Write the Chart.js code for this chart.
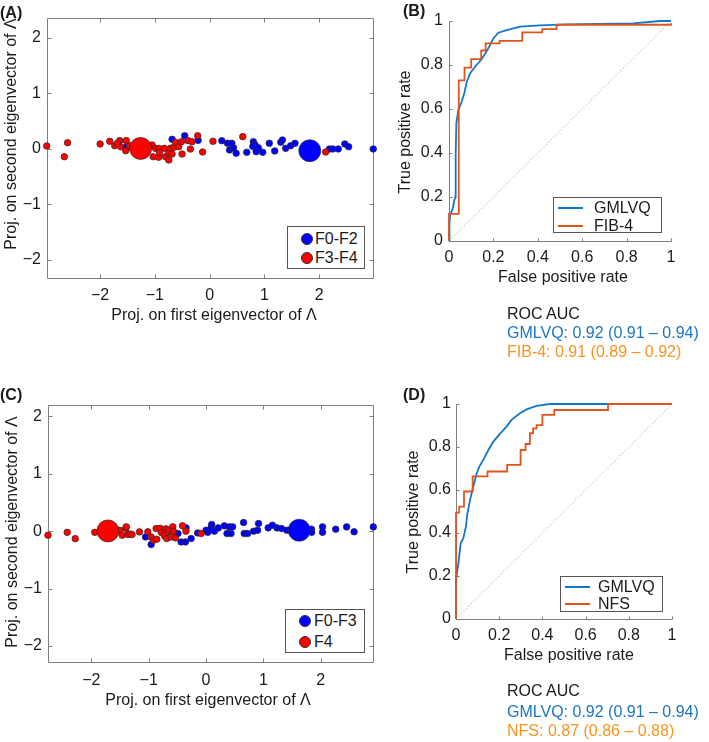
<!DOCTYPE html>
<html><head><meta charset="utf-8">
<script src="https://cdn.jsdelivr.net/npm/chart.js@4.4.1/dist/chart.umd.min.js"></script>
<style>
html,body{margin:0;padding:0;background:#fff;}
body{width:709px;height:742px;position:relative;overflow:hidden;font-family:'Liberation Sans',Arial,Helvetica,sans-serif;color:#1a1a1a;}
canvas{position:absolute;}
.t{position:absolute;font-size:16px;line-height:16px;white-space:nowrap;}
.cx{transform:translate(-50%,-50%);}
.ry{transform:translate(-50%,-50%) rotate(-90deg);}
.lt{transform:translateY(-50%);}
.lab{position:absolute;font-weight:bold;font-size:16px;line-height:16px;transform:translateY(-50%);}
.leg{position:absolute;border:1px solid #555;background:#fff;box-sizing:border-box;}
.leg .m{position:absolute;width:12px;height:12px;border-radius:50%;border:1px solid #333;box-sizing:border-box;transform:translate(-50%,-50%);}
.leg .ln{position:absolute;height:2px;transform:translateY(-50%);}
.leg .tx{position:absolute;font-size:16px;line-height:16px;transform:translateY(-50%);white-space:nowrap;}
</style></head>
<body>
<canvas id="cA" width="385" height="335" style="left:0;top:0"></canvas>
<canvas id="cB" width="324" height="300" style="left:385px;top:0"></canvas>
<canvas id="cC" width="385" height="372" style="left:0;top:370px"></canvas>
<canvas id="cD" width="324" height="290" style="left:385px;top:370px"></canvas>

<div class="lab" style="left:0;top:13px">(A)</div>
<div class="lab" style="left:403px;top:11px">(B)</div>
<div class="lab" style="left:0;top:395px">(C)</div>
<div class="lab" style="left:403px;top:395px">(D)</div>

<div class="t ry" style="left:11px;top:134px">Proj. on second eigenvector of Λ</div>
<div class="t cx" style="left:214px;top:315px">Proj. on first eigenvector of Λ</div>
<div class="t ry" style="left:405px;top:132px">True positive rate</div>
<div class="t cx" style="left:563px;top:277px">False positive rate</div>
<div class="t ry" style="left:12px;top:532px">Proj. on second eigenvector of Λ</div>
<div class="t cx" style="left:208px;top:700px">Proj. on first eigenvector of Λ</div>
<div class="t ry" style="left:413px;top:512px">True positive rate</div>
<div class="t cx" style="left:569px;top:655px">False positive rate</div>

<div class="leg" style="left:287px;top:226px;width:78px;height:43px">
  <div class="m" style="left:19px;top:12px;background:#0000ff"></div><div class="tx" style="left:27px;top:12px">F0-F2</div>
  <div class="m" style="left:19px;top:31px;background:#ff0000"></div><div class="tx" style="left:27px;top:31px">F3-F4</div>
</div>
<div class="leg" style="left:285px;top:609px;width:80px;height:44px">
  <div class="m" style="left:19px;top:11px;background:#0000ff"></div><div class="tx" style="left:28px;top:11px">F0-F3</div>
  <div class="m" style="left:19px;top:32px;background:#ff0000"></div><div class="tx" style="left:28px;top:32px">F4</div>
</div>
<div class="leg" style="left:553px;top:197px;width:109px;height:36px">
  <div class="ln" style="left:4px;width:25px;top:10px;background:#1177c8"></div><div class="tx" style="left:40px;top:10px">GMLVQ</div>
  <div class="ln" style="left:4px;width:25px;top:28px;background:#e0541e"></div><div class="tx" style="left:40px;top:28px">FIB-4</div>
</div>
<div class="leg" style="left:560px;top:576px;width:103px;height:36px">
  <div class="ln" style="left:4px;width:25px;top:10px;background:#1177c8"></div><div class="tx" style="left:37px;top:10px">GMLVQ</div>
  <div class="ln" style="left:4px;width:25px;top:27px;background:#e0541e"></div><div class="tx" style="left:37px;top:27px">NFS</div>
</div>

<div class="t lt" style="left:507px;top:314px">ROC AUC</div>
<div class="t lt" style="left:507px;top:333px;color:#1b75c4">GMLVQ: 0.92 (0.91 – 0.94)</div>
<div class="t lt" style="left:507px;top:352px;color:#f7941e">FIB-4: 0.91 (0.89 – 0.92)</div>
<div class="t lt" style="left:507px;top:691px">ROC AUC</div>
<div class="t lt" style="left:507px;top:712px;color:#1b75c4">GMLVQ: 0.92 (0.91 – 0.94)</div>
<div class="t lt" style="left:507px;top:731px;color:#f7941e">NFS: 0.87 (0.86 – 0.88)</div>

<script>
// ---------- data ----------
const projTicks = [-2, -1, 0, 1, 2];
const projTickLabels = ['\u22122', '\u22121', '0', '1', '2'];
const rocTicks = [0, 0.2, 0.4, 0.6, 0.8, 1];
const rocTickLabels = ['0', '0.2', '0.4', '0.6', '0.8', '1'];

// Panel A: F0-F2 (blue) vs F3-F4 (red)
const aBlueX = [-0.685, -0.455, -0.21, -1.52, 0.224, 0.327, 0.406, 0.364, 0.436, 0.485, 0.679, 0.8, 0.83, 0.79, 0.89, 0.85, 0.97, 1.09, 1.19, 1.3, 1.33, 1.39, 1.48, 1.56, 2.19, 2.25, 2.35, 2.47, 2.54, 2.99];
const aBlueY = [0.17, 0.234, 0.15, 0.03, 0.144, 0.097, 0.097, -0.023, 0.018, -0.083, -0.065, 0.126, 0.067, 0.04, 0.018, -0.054, -0.065, 0.097, -0.041, 0.115, 0.157, 0.006, 0.054, 0.097, -0.005, -0.005, -0.005, 0.085, 0.036, -0.005];
const aRedX = [-2.975, -2.594, -2.654, -2.0, -1.824, -1.733, -1.642, -1.624, -1.533, -1.521, -1.685, -1.46, -1.41, -1.066, -1.05, -1.03, -0.988, -0.93, -0.927, -0.915, -0.824, -0.806, -0.745, -0.745, -0.715, -0.685, -0.655, -0.624, -0.564, -0.515, -0.503, -0.394, -0.351, -0.32, -0.218, -0.127, 0.061, 0.606, 2.12];
const aRedY = [0.049, 0.108, -0.144, 0.085, 0.133, 0.054, 0.145, 0.036, -0.036, 0.145, 0.096, 0.054, 0.006, 0.054, 0.067, -0.144, 0.006, -0.155, 0.006, -0.066, 0.006, -0.144, -0.066, -0.204, 0.006, -0.096, 0.024, 0.114, 0.036, 0.126, -0.096, 0.145, -0.006, 0.126, 0.234, -0.06, 0.133, 0.217, -0.06];
const aProtoBlue = [1.83, -0.036];
const aProtoRed = [-1.26, 0.005];

// Panel C: F0-F3 (blue) vs F4 (red)
const cBlueX = [-1.055, -0.957, -0.49, -0.35, -0.435, -0.36, -0.26, -0.146, 0.0, 0.03, 0.087, 0.098, 0.145, 0.214, 0.318, 0.365, 0.405, 0.435, 0.463, 0.654, 0.666, 0.724, 0.828, 0.898, 0.915, 1.083, 1.158, 1.235, 1.315, 1.408, 1.837, 1.84, 2.03, 2.03, 2.26, 2.45, 2.58, 2.915];
const cBlueY = [-0.1, -0.232, -0.04, 0.058, -0.187, -0.187, -0.128, -0.03, 0.017, -0.02, 0.058, 0.116, 0.0, 0.058, 0.093, -0.04, 0.075, -0.04, 0.075, 0.151, -0.04, -0.04, 0.0, 0.017, 0.134, 0.058, 0.105, 0.058, 0.047, 0.017, 0.035, -0.02, 0.075, -0.02, 0.035, 0.075, -0.01, 0.075];
const cRedX = [-2.755, -2.42, -2.28, -1.94, -1.508, -1.46, -1.40, -1.39, -1.36, -1.32, -1.29, -1.16, -1.015, -0.957, -0.917, -0.87, -0.86, -0.8, -0.78, -0.725, -0.7, -0.685, -0.65, -0.61, -0.61, -0.58, -0.57, -0.534, -0.41, -0.35, -0.087];
const cRedY = [-0.07, -0.02, -0.13, -0.02, 0.017, -0.07, 0.047, 0.075, -0.058, -0.05, -0.058, -0.012, -0.01, -0.1, -0.157, 0.047, -0.14, 0.05, -0.023, -0.08, 0.04, -0.128, 0.017, -0.07, -0.1, 0.075, 0.0, -0.116, 0.093, 0.0, -0.04];
const cProtoBlue = [1.623, 0.017];
const cProtoRed = [-1.71, 0.005];

// Panel B: ROC GMLVQ vs FIB-4
const bGmlvqFpr = [0, 0.002, 0.005, 0.017, 0.024, 0.029, 0.03, 0.033, 0.042, 0.057, 0.069, 0.08, 0.095, 0.117, 0.147, 0.173, 0.2, 0.222, 0.26, 0.32, 0.41, 0.53, 0.83, 0.95, 1];
const bGmlvqTpr = [0, 0.08, 0.118, 0.148, 0.186, 0.2, 0.383, 0.535, 0.595, 0.633, 0.671, 0.724, 0.762, 0.792, 0.826, 0.868, 0.921, 0.947, 0.959, 0.974, 0.98, 0.985, 0.989, 1.0, 1.0];
const bFib4Fpr = [0, 0, 0.044, 0.044, 0.07, 0.07, 0.1, 0.1, 0.145, 0.145, 0.165, 0.165, 0.228, 0.228, 0.33, 0.33, 0.42, 0.42, 0.484, 0.484, 1, 1];
const bFib4Tpr = [0, 0.123, 0.123, 0.73, 0.73, 0.788, 0.788, 0.827, 0.827, 0.866, 0.866, 0.898, 0.898, 0.91, 0.91, 0.948, 0.948, 0.963, 0.963, 0.983, 0.983, 0.99];

// Panel D: ROC GMLVQ vs NFS
const dGmlvqFpr = [0, 0, 0.011, 0.022, 0.034, 0.046, 0.052, 0.065, 0.08, 0.096, 0.108, 0.126, 0.15, 0.173, 0.203, 0.234, 0.257, 0.296, 0.327, 0.373, 0.434, 1];
const dGmlvqTpr = [0, 0.18, 0.26, 0.353, 0.376, 0.43, 0.485, 0.554, 0.616, 0.678, 0.709, 0.74, 0.786, 0.825, 0.861, 0.895, 0.926, 0.957, 0.975, 0.991, 1.0, 1.0];
const dNfsFpr = [0, 0, 0.015, 0.015, 0.037, 0.037, 0.077, 0.077, 0.146, 0.146, 0.237, 0.237, 0.299, 0.299, 0.322, 0.322, 0.342, 0.342, 0.357, 0.357, 0.373, 0.373, 0.4, 0.4, 0.455, 0.455, 0.704, 0.704, 1];
const dNfsTpr = [0, 0.495, 0.495, 0.523, 0.523, 0.593, 0.593, 0.663, 0.663, 0.686, 0.686, 0.717, 0.717, 0.786, 0.786, 0.814, 0.814, 0.864, 0.864, 0.887, 0.887, 0.902, 0.902, 0.949, 0.949, 0.972, 0.972, 1.0, 1.0];
const diagX = [0, 1];
const diagY = [0, 1];

// ---------- helpers ----------
const zip = (xs, ys) => xs.map((x, i) => ({x: x, y: ys[i]}));
const BLUE_LINE = '#1177c8', ORANGE_LINE = '#e0541e';

Chart.defaults.font.family = "'Liberation Sans', Arial, Helvetica, sans-serif";
Chart.defaults.font.size = 16;
Chart.defaults.color = '#1a1a1a';

const axesPlugin = {
  id: 'matlabAxes',
  beforeDatasetsDraw(chart, args, o) {
    const ctx = chart.ctx, a = chart.chartArea;
    const xs = chart.scales.x, ys = chart.scales.y;
    const L = o.tickLen;
    const r = v => Math.round(v) + 0.5;
    const l = r(a.left), b = r(a.bottom), t = r(a.top), rt = r(a.right);
    ctx.save();
    ctx.strokeStyle = '#7f7f7f';
    ctx.lineWidth = 1;
    ctx.beginPath();
    ctx.moveTo(l, t); ctx.lineTo(l, b); ctx.lineTo(rt, b);
    if (o.box) { ctx.lineTo(rt, t); ctx.lineTo(l, t); }
    xs.ticks.forEach(tk => {
      const p = r(xs.getPixelForValue(tk.value));
      ctx.moveTo(p, b); ctx.lineTo(p, b - L);
      if (o.box) { ctx.moveTo(p, t); ctx.lineTo(p, t + L); }
    });
    ys.ticks.forEach(tk => {
      const p = r(ys.getPixelForValue(tk.value));
      ctx.moveTo(l, p); ctx.lineTo(l + L, p);
      if (o.box) { ctx.moveTo(rt, p); ctx.lineTo(rt - L, p); }
    });
    ctx.stroke();
    ctx.restore();
  }
};

function makeChart(id, p) {
  return new Chart(document.getElementById(id), {
    type: 'scatter',
    data: { datasets: p.datasets },
    plugins: [axesPlugin],
    options: {
      responsive: false, animation: false, events: [],
      layout: { padding: { top: p.padTop, right: p.padRight, left: 0, bottom: 0 } },
      plugins: { legend: { display: false }, tooltip: { enabled: false }, matlabAxes: { box: p.box, tickLen: p.tickLen } },
      scales: {
        x: {
          type: 'linear', min: p.xMin, max: p.xMax,
          afterBuildTicks: s => { s.ticks = p.xTicks.map(v => ({value: v})); },
          ticks: { autoSkip: false, maxRotation: 0, padding: p.xPad, callback: (v, i) => p.xLabels[i] },
          grid: { display: false, drawTicks: false }, border: { display: false },
          afterFit: s => { s.height = p.xAxisH; }
        },
        y: {
          type: 'linear', min: p.yMin, max: p.yMax,
          afterBuildTicks: s => { s.ticks = p.yTicks.map(v => ({value: v})); },
          ticks: { autoSkip: false, padding: p.yPad, callback: (v, i) => p.yLabels[i] },
          grid: { display: false, drawTicks: false }, border: { display: false },
          afterFit: s => { s.width = p.yAxisW; }
        }
      }
    }
  });
}

function scatterSets(protoB, protoR, rx, ry, bx, by) {
  const pt = (data, color, radius) => ({
    data: data, backgroundColor: color, borderColor: '#2b2b2b', borderWidth: 0.7,
    pointRadius: radius, pointStyle: 'circle', clip: false
  });
  return [
    pt([{x: protoR[0], y: protoR[1]}], '#ff0000', 11),
    pt([{x: protoB[0], y: protoB[1]}], '#0000ff', 11),
    pt(zip(rx, ry), '#ff0000', 3.3),
    pt(zip(bx, by), '#0000ff', 3.3)
  ];
}

function rocSets(fx, fy, gx, gy) {
  const ln = (data, color, w, dash) => ({
    data: data, showLine: true, borderColor: color, borderWidth: w, borderDash: dash || [],
    pointRadius: 0, tension: 0, clip: false, fill: false
  });
  return [
    ln(zip(fx, fy), ORANGE_LINE, 1.8),
    ln(zip(gx, gy), BLUE_LINE, 1.8),
    ln(zip(diagX, diagY), '#a8a8a8', 0.9, [1.5, 2])
  ];
}

makeChart('cA', {
  datasets: scatterSets(aProtoBlue, aProtoRed, aRedX, aRedY, aBlueX, aBlueY),
  xMin: -2.97, xMax: 2.99, yMin: -2.33, yMax: 2.355,
  xTicks: projTicks, xLabels: projTickLabels, yTicks: projTicks, yLabels: projTickLabels,
  padTop: 18, padRight: 8, yAxisW: 47, xAxisH: 57, xPad: 8, yPad: 6, box: true, tickLen: 4
});
makeChart('cC', {
  datasets: scatterSets(cProtoBlue, cProtoRed, cRedX, cRedY, cBlueX, cBlueY),
  xMin: -2.755, xMax: 2.915, yMin: -2.28, yMax: 2.2,
  xTicks: projTicks, xLabels: projTickLabels, yTicks: projTicks, yLabels: projTickLabels,
  padTop: 35, padRight: 11, yAxisW: 48, xAxisH: 80, xPad: 9, yPad: 6, box: true, tickLen: 4
});
makeChart('cB', {
  datasets: rocSets(bFib4Fpr, bFib4Tpr, bGmlvqFpr, bGmlvqTpr),
  xMin: 0, xMax: 1, yMin: 0, yMax: 1,
  xTicks: rocTicks, xLabels: rocTickLabels, yTicks: rocTicks, yLabels: rocTickLabels,
  padTop: 21, padRight: 38, yAxisW: 64, xAxisH: 59, xPad: 7, yPad: 6, box: false, tickLen: 3
});
makeChart('cD', {
  datasets: rocSets(dNfsFpr, dNfsTpr, dGmlvqFpr, dGmlvqTpr),
  xMin: 0, xMax: 1, yMin: 0, yMax: 1,
  xTicks: rocTicks, xLabels: rocTickLabels, yTicks: rocTicks, yLabels: rocTickLabels,
  padTop: 34, padRight: 37, yAxisW: 71, xAxisH: 41, xPad: 7, yPad: 5, box: false, tickLen: 3
});
</script>
</body></html>
